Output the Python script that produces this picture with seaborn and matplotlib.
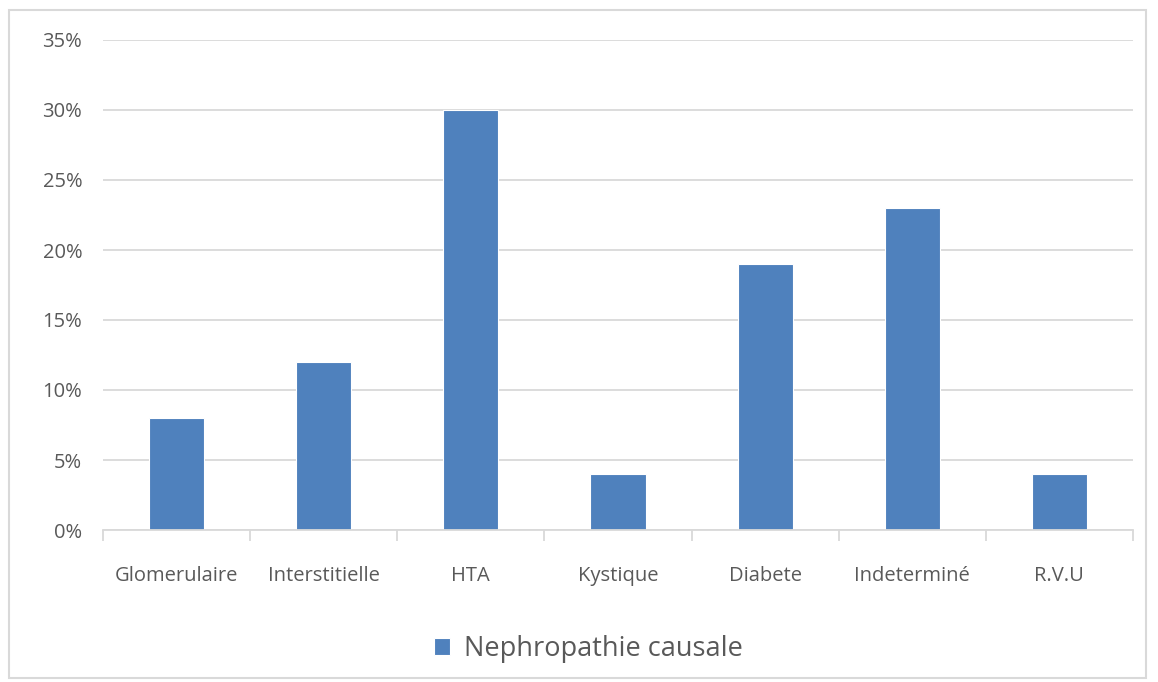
import pandas as pd
import matplotlib.pyplot as plt
import matplotlib.ticker as mticker
from matplotlib.patches import Rectangle
import seaborn as sns

# Data
categories = ["Glomerulaire", "Interstitielle", "HTA", "Kystique", "Diabete", "Indeterminé", "R.V.U"]
values = [0.08, 0.12, 0.30, 0.04, 0.19, 0.23, 0.04]
series_name = "Nephropathie causale"

df = pd.DataFrame({"cause": categories, "pct": values, "serie": series_name})

sns.set_theme(style="white")
plt.rcParams["font.family"] = ["Open Sans", "DejaVu Sans"]

grid_col = "#d9d9d9"
text_col = "#595959"
bar_col = "#4f81bd"

fig = plt.figure(figsize=(11.58, 6.82), dpi=100)
ax = fig.add_axes([103 / 1158, 1 - 530 / 682, 1030 / 1158, 490 / 682])

sns.barplot(data=df, x="cause", y="pct", hue="serie", palette=[bar_col], saturation=1,
            width=0.375, edgecolor="white", linewidth=0.8, ax=ax)

ax.set_ylim(0, 0.35)
ax.set_xlim(-0.5, len(categories) - 0.5)
ax.yaxis.set_major_locator(mticker.MultipleLocator(0.05))
ax.yaxis.set_major_formatter(mticker.FuncFormatter(lambda v, p: f"{v * 100:.0f}%"))
ax.yaxis.grid(True, color=grid_col, linewidth=1.3)
ax.set_axisbelow(True)
ax.set_xlabel("")
ax.set_ylabel("")

for s in ["top", "right", "left"]:
    ax.spines[s].set_visible(False)
ax.spines["bottom"].set_color(grid_col)
ax.spines["bottom"].set_linewidth(1.3)

# category separators below the axis, Excel style
ax.set_xticks([i - 0.5 for i in range(len(categories) + 1)], minor=True)
ax.tick_params(axis="x", which="minor", length=8, color=grid_col, width=1.3, bottom=True)
ax.tick_params(axis="x", which="major", length=0, pad=26, labelsize=14.5, labelcolor=text_col)
ax.tick_params(axis="y", length=0, pad=15, labelsize=14.5, labelcolor=text_col)

leg = ax.legend(loc="upper center", bbox_to_anchor=(0.471, -0.165), frameon=False,
                fontsize=19.5, handlelength=0.6, handleheight=0.6, handletextpad=0.5)
for t in leg.get_texts():
    t.set_color(text_col)

# outer chart frame
fig.patches.append(Rectangle((9 / 1158, 1 - 678 / 682), 1137 / 1158, 668 / 682,
                             transform=fig.transFigure, fill=False,
                             edgecolor=grid_col, linewidth=1.5))

fig.savefig("out.png", dpi=100)
